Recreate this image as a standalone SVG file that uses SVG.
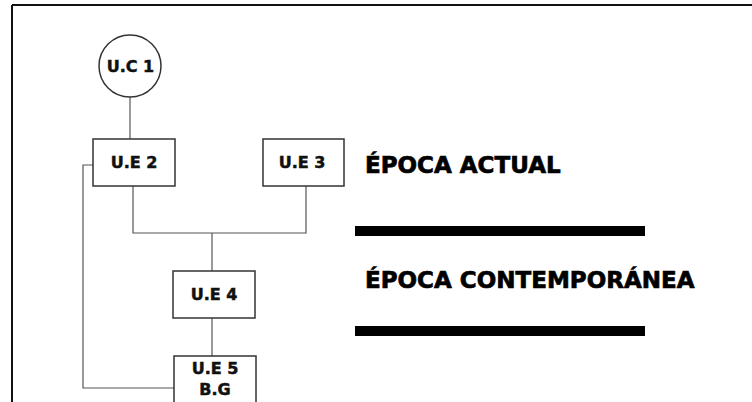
<svg xmlns="http://www.w3.org/2000/svg" width="752" height="402" viewBox="0 0 752 402">
<style>
.node{fill:#fff;stroke:#333;stroke-width:1.5}
.lbl{font-family:"DejaVu Sans",Verdana,sans-serif;font-weight:bold;font-size:16px;fill:#111;stroke:#111;stroke-width:0.5;text-anchor:middle}
.big{font-family:"DejaVu Sans",Verdana,sans-serif;font-weight:bold;font-size:23px;fill:#000;stroke:#000;stroke-width:0.7}
.conn{fill:none;stroke:#555;stroke-width:1.2}
</style>
<rect x="0" y="0" width="752" height="402" fill="#fff"/>
<g id="frame">
<line x1="12" y1="5" x2="752" y2="5" stroke="#111" stroke-width="2"/>
<line x1="12" y1="5" x2="12" y2="402" stroke="#111" stroke-width="2"/>
</g>
<g id="connectors">
<line class="conn" x1="130" y1="97" x2="130" y2="139"/>
<path class="conn" d="M133 186 V233 H306 V186"/>
<line class="conn" x1="212" y1="233" x2="212" y2="271"/>
<line class="conn" x1="212" y1="318" x2="212" y2="356"/>
<path class="conn" d="M93 165 H83 V388 H174"/>
</g>
<g id="uc1">
<circle class="node" cx="130" cy="66" r="31"/>
<text class="lbl" x="130.500" y="72">U.C 1</text>
</g>
<g id="ue2">
<rect class="node" x="93" y="139" width="82" height="47"/>
<text class="lbl" x="134" y="168">U.E 2</text>
</g>
<g id="ue3">
<rect class="node" x="263" y="139" width="81" height="47"/>
<text class="lbl" x="302" y="168">U.E 3</text>
</g>
<g id="ue4">
<rect class="node" x="173" y="271" width="82" height="47"/>
<text class="lbl" x="214" y="300">U.E 4</text>
</g>
<g id="ue5">
<rect class="node" x="174" y="356" width="82" height="52"/>
<text class="lbl" x="215" y="374">U.E 5</text>
<text class="lbl" x="215" y="395">B.G</text>
</g>
<g id="legend">
<text class="big" x="365" y="172.500">ÉPOCA ACTUAL</text>
<rect x="355" y="226" width="290" height="10" fill="#000"/>
<text class="big" x="365" y="288">ÉPOCA CONTEMPORÁNEA</text>
<rect x="355" y="326" width="290" height="10" fill="#000"/>
</g>
</svg>
